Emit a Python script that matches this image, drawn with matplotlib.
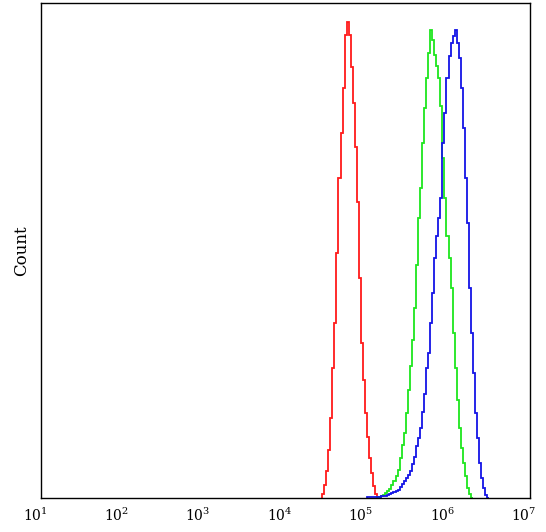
import numpy as np
import matplotlib.pyplot as plt
import matplotlib.transforms as mtransforms

# histogram channels: log10 start of first bin, bin width in decades, counts per bin
bin_width = 0.025

red_start = 4.45
red_counts = [4, 13, 27, 48, 80, 130, 175, 245, 320, 365, 410, 463, 476, 463,
              431, 395, 351, 296, 220, 155, 118, 85, 61, 40, 25, 12, 4, 1]

green_start = 5.125
green_counts = [1, 1, 2, 3, 5, 7, 9, 13, 17, 22, 28, 40, 53, 65, 85, 108, 132,
                158, 190, 233, 280, 310, 355, 390, 420, 445, 468, 458, 443, 432,
                420, 392, 340, 300, 262, 240, 210, 165, 130, 98, 70, 50, 35, 22,
                10, 4, 0]

blue_start = 5.0
blue_counts = [1, 1, 1, 1, 1, 1, 1, 2, 2, 2, 3, 4, 5, 6, 7, 8, 11, 14, 17, 20,
               23, 27, 34, 41, 52, 60, 70, 86, 104, 130, 145, 175, 205, 240, 262,
               280, 300, 355, 385, 420, 442, 455, 462, 468, 455, 440, 410, 370,
               320, 275, 210, 165, 125, 85, 60, 35, 20, 10, 3, 0]

series = [
    (red_start, red_counts, '#ff1a1a'),
    (green_start, green_counts, '#1ee61e'),
    (blue_start, blue_counts, '#1414e6'),
]

plt.rcParams['font.family'] = 'DejaVu Serif'
plt.rcParams['mathtext.fontset'] = 'dejavuserif'

fig = plt.figure(figsize=(5.46, 5.32), dpi=100)
ax = fig.add_axes([41 / 546, 1 - 498 / 532, 489 / 546, 495 / 532])

for start, counts, color in series:
    edges = 10 ** (start + bin_width * np.arange(len(counts) + 1))
    ax.stairs(counts, edges, color=color, linewidth=1.3, baseline=0)

ax.set_xscale('log')
ax.set_xlim(1e1, 1e7)
ax.set_ylim(0, 495)
ax.set_xticks([10.0 ** k for k in range(1, 8)])
ax.minorticks_off()
ax.set_yticks([])
ax.tick_params(axis='x', length=0, labelsize=10, pad=6)
ax.set_ylabel('Count', fontsize=12, labelpad=8)
for sp in ax.spines.values():
    sp.set_linewidth(1.0)

# tick labels in the reference sit a few pixels left of the decade positions
shift = mtransforms.ScaledTranslation(-6 / 100, 0, fig.dpi_scale_trans)
for lbl in ax.get_xticklabels():
    lbl.set_transform(lbl.get_transform() + shift)

fig.savefig('out.png', dpi=100)
